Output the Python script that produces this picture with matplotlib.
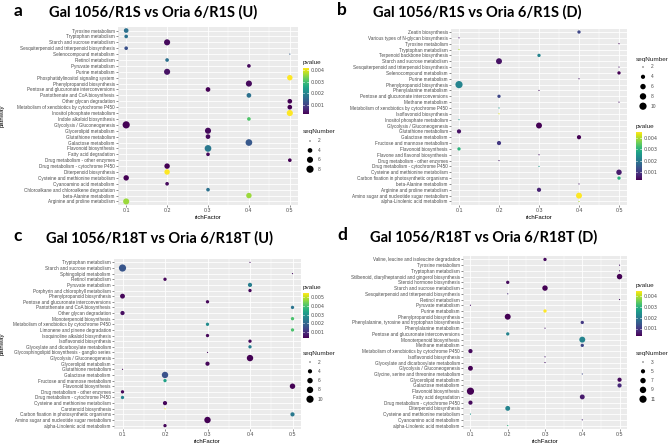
import numpy as np
import matplotlib
matplotlib.use("Agg")
import matplotlib.pyplot as plt

# ---------------- data ----------------
paths_a = ["Tyrosine metabolism", "Tryptophan metabolism", "Starch and sucrose metabolism",
           "Sesquiterpenoid and triterpenoid biosynthesis", "Selenocompound metabolism",
           "Retinol metabolism", "Pyruvate metabolism", "Purine metabolism",
           "Phosphatidylinositol signaling system", "Phenylpropanoid biosynthesis",
           "Pentose and glucuronate interconversions", "Pantothenate and CoA biosynthesis",
           "Other glycan degradation", "Metabolism of xenobiotics by cytochrome P450",
           "Inositol phosphate metabolism", "Indole alkaloid biosynthesis",
           "Glycolysis / Gluconeogenesis", "Glycerolipid metabolism", "Glutathione metabolism",
           "Galactose metabolism", "Flavonoid biosynthesis", "Fatty acid degradation",
           "Drug metabolism - other enzymes", "Drug metabolism - cytochrome P450",
           "Diterpenoid biosynthesis", "Cysteine and methionine metabolism",
           "Cyanoamino acid metabolism", "Chloroalkane and chloroalkene degradation",
           "beta-Alanine metabolism", "Arginine and proline metabolism"]
rich_a = [0.1, 0.1, 0.2, 0.1, 0.5, 0.2, 0.4, 0.2, 0.5, 0.4, 0.3, 0.4, 0.5, 0.5, 0.5,
          0.4, 0.1, 0.3, 0.3, 0.4, 0.3, 0.3, 0.5, 0.2, 0.2, 0.1, 0.2, 0.3, 0.4, 0.1]
pval_a = [0.0017, 0.0017, 0.0003, 0.0012, 0.0014, 0.0017, 0.0003, 0.0004, 0.0042, 0.0003,
          0.0002, 0.0017, 0.0002, 0.0002, 0.0042, 0.0031, 0.0002, 0.0003, 0.0003, 0.0013,
          0.0018, 0.0003, 0.0002, 0.0002, 0.0042, 0.0002, 0.0003, 0.0017, 0.0036, 0.0036]
count_a = [4, 3, 6, 3, 2, 3, 3, 6, 5, 6, 4, 4, 4, 4, 6, 3, 8, 6, 4, 7, 7, 3, 3, 5, 5, 5, 3, 3, 5, 6]
breaks_a = [2, 4, 6, 8]

paths_b = ["Zeatin biosynthesis", "Various types of N-glycan biosynthesis", "Tyrosine metabolism",
           "Tryptophan metabolism", "Terpenoid backbone biosynthesis", "Starch and sucrose metabolism",
           "Sesquiterpenoid and triterpenoid biosynthesis", "Selenocompound metabolism",
           "Purine metabolism", "Phenylpropanoid biosynthesis", "Phenylalanine metabolism",
           "Pentose and glucuronate interconversions", "Methane metabolism",
           "Metabolism of xenobiotics by cytochrome P450", "Isoflavonoid biosynthesis",
           "Inositol phosphate metabolism", "Glycolysis / Gluconeogenesis", "Glutathione metabolism",
           "Galactose metabolism", "Fructose and mannose metabolism", "Flavonoid biosynthesis",
           "Flavone and flavonol biosynthesis", "Drug metabolism - other enzymes",
           "Drug metabolism - cytochrome P450", "Cysteine and methionine metabolism",
           "Carbon fixation in photosynthetic organisms", "beta-Alanine metabolism",
           "Arginine and proline metabolism", "Amino sugar and nucleotide sugar metabolism",
           "alpha-Linolenic acid metabolism"]
rich_b = [0.4, 0.1, 0.5, 0.1, 0.3, 0.2, 0.5, 0.5, 0.4, 0.1, 0.3, 0.2, 0.5, 0.2, 0.2,
          0.1, 0.3, 0.1, 0.4, 0.2, 0.1, 0.3, 0.2, 0.3, 0.5, 0.5, 0.4, 0.3, 0.4, 0.4]
pval_b = [0.0012, 0.0005, 0.0004, 0.0040, 0.0022, 0.0005, 0.0005, 0.0003, 0.0005, 0.0022,
          0.0005, 0.0012, 0.0005, 0.0025, 0.0043, 0.0025, 0.0003, 0.0005, 0.0003, 0.0010,
          0.0030, 0.0005, 0.0006, 0.0025, 0.0006, 0.0030, 0.0006, 0.0007, 0.0045, 0.0040]
count_b = [3, 2, 2, 2, 3, 7, 2, 3, 2, 10, 2, 3, 2, 2, 2, 2, 7, 4, 4, 4, 3, 2, 2, 2, 6, 3, 2, 4, 7, 2]
breaks_b = [2, 4, 6, 8, 10]

paths_c = ["Tryptophan metabolism", "Starch and sucrose metabolism", "Sphingolipid metabolism",
           "Retinol metabolism", "Pyruvate metabolism", "Porphyrin and chlorophyll metabolism",
           "Phenylpropanoid biosynthesis", "Pentose and glucuronate interconversions",
           "Pantothenate and CoA biosynthesis", "Other glycan degradation",
           "Monoterpenoid biosynthesis", "Metabolism of xenobiotics by cytochrome P450",
           "Limonene and pinene degradation", "Isoquinoline alkaloid biosynthesis",
           "Isoflavonoid biosynthesis", "Glyoxylate and dicarboxylate metabolism",
           "Glycosphingolipid biosynthesis - ganglio series", "Glycolysis / Gluconeogenesis",
           "Glycerolipid metabolism", "Glutathione metabolism", "Galactose metabolism",
           "Fructose and mannose metabolism", "Flavonoid biosynthesis",
           "Drug metabolism - other enzymes", "Drug metabolism - cytochrome P450",
           "Cysteine and methionine metabolism", "Carotenoid biosynthesis",
           "Carbon fixation in photosynthetic organisms",
           "Amino sugar and nucleotide sugar metabolism", "alpha-Linolenic acid metabolism"]
rich_c = [0.4, 0.1, 0.5, 0.2, 0.4, 0.4, 0.1, 0.3, 0.5, 0.1, 0.5, 0.3, 0.5, 0.3, 0.4,
          0.4, 0.3, 0.4, 0.3, 0.1, 0.2, 0.2, 0.5, 0.1, 0.1, 0.2, 0.2, 0.5, 0.3, 0.2]
pval_c = [0.0005, 0.0017, 0.0005, 0.0004, 0.0025, 0.0004, 0.0004, 0.0004, 0.0023, 0.0005,
          0.0040, 0.0028, 0.0040, 0.0004, 0.0004, 0.0025, 0.0004, 0.0003, 0.0004, 0.0004,
          0.0016, 0.0033, 0.0003, 0.0004, 0.0026, 0.0004, 0.0055, 0.0024, 0.0003, 0.0004]
count_c = [2, 10, 2, 3, 4, 3, 5, 3, 3, 4, 3, 3, 3, 3, 3, 3, 2, 8, 4, 2, 8, 3, 6, 3, 3, 4, 2, 4, 8, 3]
breaks_c = [2, 4, 6, 8, 10]

paths_d = ["Valine, leucine and isoleucine degradation", "Tyrosine metabolism",
           "Tryptophan metabolism", "Stilbenoid, diarylheptanoid and gingerol biosynthesis",
           "Steroid hormone biosynthesis", "Starch and sucrose metabolism",
           "Sesquiterpenoid and triterpenoid biosynthesis", "Retinol metabolism",
           "Pyruvate metabolism", "Purine metabolism", "Phenylpropanoid biosynthesis",
           "Phenylalanine, tyrosine and tryptophan biosynthesis", "Phenylalanine metabolism",
           "Pentose and glucuronate interconversions", "Monoterpenoid biosynthesis",
           "Methane metabolism", "Metabolism of xenobiotics by cytochrome P450",
           "Isoflavonoid biosynthesis", "Glyoxylate and dicarboxylate metabolism",
           "Glycolysis / Gluconeogenesis", "Glycine, serine and threonine metabolism",
           "Glycerolipid metabolism", "Galactose metabolism", "Flavonoid biosynthesis",
           "Fatty acid degradation", "Drug metabolism - cytochrome P450",
           "Diterpenoid biosynthesis", "Cysteine and methionine metabolism",
           "Cyanoamino acid metabolism", "alpha-Linolenic acid metabolism"]
rich_d = [0.3, 0.5, 0.5, 0.5, 0.2, 0.3, 0.2, 0.5, 0.1, 0.3, 0.2, 0.4, 0.3, 0.2, 0.4,
          0.4, 0.1, 0.3, 0.3, 0.1, 0.4, 0.5, 0.5, 0.1, 0.4, 0.1, 0.2, 0.1, 0.4, 0.2]
pval_d = [0.0004, 0.0005, 0.0005, 0.0003, 0.0004, 0.0003, 0.0008, 0.0005, 0.0005, 0.0045,
          0.0003, 0.0010, 0.0006, 0.0022, 0.0022, 0.0012, 0.0004, 0.0006, 0.0005, 0.0003,
          0.0012, 0.0004, 0.0008, 0.0003, 0.0006, 0.0004, 0.0022, 0.0025, 0.0007, 0.0030]
count_d = [4, 3, 3, 7, 4, 7, 3, 3, 3, 4, 8, 4, 3, 4, 8, 4, 5, 3, 3, 6, 3, 5, 5, 11, 6, 5, 6, 3, 3, 3]
breaks_d = [3, 5, 7, 9, 11]

titles = ["Gal 1056/R1S vs Oria 6/R1S (U)", "Gal 1056/R1S vs Oria 6/R1S (D)",
          "Gal 1056/R18T vs Oria 6/R18T (U)", "Gal 1056/R18T vs Oria 6/R18T (D)"]
letters = ["a", "b", "c", "d"]
xticks = [0.1, 0.2, 0.3, 0.4, 0.5]
cbar_ticks = [0.001, 0.002, 0.003, 0.004, 0.005]

# ---------------- layout helpers (pixels) ----------------
W, H = 669, 447
fig = plt.figure(figsize=(W / 100, H / 100), dpi=100)
fig.patch.set_facecolor("white")
TXT = "Liberation Sans"
DMIN, DMAX = 1.2, 7.2


def box(l, t, r, b):
    return [l / W, 1 - b / H, (r - l) / W, (b - t) / H]


def diam(v, lo, hi):
    t = (np.asarray(v, float) - lo) / (hi - lo)
    return DMIN + (DMAX - DMIN) * np.sqrt(t)


# overlay for legends / titles in pixel coordinates
ov = fig.add_axes([0, 0, 1, 1], zorder=5)
ov.set_xlim(0, W)
ov.set_ylim(H, 0)
ov.axis("off")


def panel(pos, paths, rich, pval, count, breaks, leg, ylabel):
    ax = fig.add_axes(box(*pos))
    n = len(paths)
    ypos = np.arange(n, 0, -1)
    ax.set_facecolor("#EBEBEB")
    ax.set_xlim(0.08, 0.52)
    ax.set_ylim(0.4, n + 0.6)
    ax.set_xticks(xticks)
    ax.set_xticks([0.15, 0.25, 0.35, 0.45], minor=True)
    ax.set_xticklabels([f"{v:.1f}" for v in xticks], fontsize=3.8, color="#4D4D4D", family=TXT)
    ax.set_yticks(ypos)
    ax.set_yticklabels(paths, fontsize=3.3, color="#4D4D4D", family=TXT)
    ax.tick_params(which="major", length=1.3, width=0.4, color="#333333", pad=1)
    ax.tick_params(which="minor", length=0)
    ax.grid(which="major", color="white", lw=0.6)
    ax.grid(which="minor", axis="x", color="white", lw=0.3)
    ax.set_axisbelow(True)
    for sp in ax.spines.values():
        sp.set_visible(False)
    lo, hi = min(count), max(count)
    d = diam(count, lo, hi)
    norm = plt.Normalize(min(pval), max(pval))
    sc = ax.scatter(rich, ypos, s=(d * 0.72) ** 2, c=pval, cmap="viridis", norm=norm,
                    linewidths=0, zorder=3)
    ax.set_xlabel("richFactor", fontsize=4.3, family=TXT, labelpad=1.5)
    if ylabel:
        ax.set_ylabel("pathway", fontsize=4.3, family=TXT)
        ax.yaxis.set_label_coords(-(pos[0] - 5) / (pos[2] - pos[0]), 0.5)

    # colour bar
    cb_l, cb_t, cb_b = leg["cbar"]
    ov.text(cb_l, cb_t - 3, "pvalue", fontsize=4.6, family=TXT, color="#222222", va="bottom")
    cax = fig.add_axes(box(cb_l, cb_t, cb_l + 5.5, cb_b))
    cb = fig.colorbar(sc, cax=cax)
    cb.outline.set_visible(False)
    tk = [v for v in cbar_ticks if min(pval) <= v <= max(pval)]
    cb.set_ticks(tk)
    cb.set_ticklabels([f"{v:.3f}" for v in tk])
    cax.tick_params(length=0, labelsize=3.5, pad=1.5, labelcolor="#4D4D4D")
    for v in tk:
        cax.axhline(v, xmin=0, xmax=0.22, color="white", lw=0.4)
        cax.axhline(v, xmin=0.78, xmax=1, color="white", lw=0.4)

    # size legend
    sx, st, sy0, sdy = leg["size"]
    ov.text(sx, st, "seqNumber", fontsize=4.6, family=TXT, color="#222222", va="center")
    ys = sy0 + sdy * np.arange(len(breaks))
    ov.scatter(np.full(len(breaks), sx + 7), ys, s=(diam(breaks, lo, hi) * 0.72) ** 2,
               c="black", linewidths=0)
    for yy, bv in zip(ys, breaks):
        ov.text(sx + 15, yy, str(bv), fontsize=3.5, family=TXT, color="#4D4D4D", va="center")
    return ax


panel((118, 27, 298, 205), paths_a, rich_a, pval_a, count_a, breaks_a,
      {"cbar": (303, 68, 114), "size": (303, 131, 141, 9.4)}, True)
panel((451, 28.5, 627, 205), paths_b, rich_b, pval_b, count_b, breaks_b,
      {"cbar": (636, 132, 180), "size": (636, 59, 67, 9.8)}, False)
panel((114, 259, 301, 429), paths_c, rich_c, pval_c, count_c, breaks_c,
      {"cbar": (303, 293, 338), "size": (303, 353, 362, 9.3)}, True)
panel((463, 256, 627, 429), paths_d, rich_d, pval_d, count_d, breaks_d,
      {"cbar": (636, 291, 336), "size": (636, 353, 362, 9.3)}, False)

# titles and panel letters
for (tx, ty), t in zip([(153, 12), (477, 12), (160, 238), (484, 237)], titles):
    ov.text(tx, ty, t, fontsize=10.5, family="Lato", weight="bold", ha="center", va="center")
for (lx, ly), t in zip([(18, 11), (342, 10), (18, 236), (342, 235)], letters):
    ov.text(lx, ly, t, fontsize=12.5, family="Lato", weight="bold", ha="center", va="center")

fig.savefig("out.png", dpi=100)
